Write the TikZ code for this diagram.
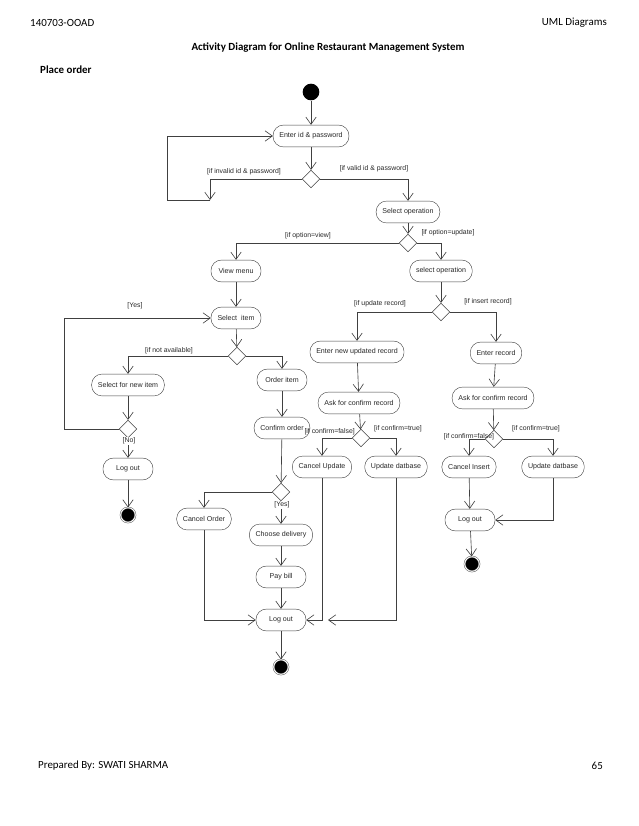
\documentclass[tikz,border=0pt]{standalone}
\usepackage{fontspec}
\setmainfont{Carlito}
\newfontfamily\umlfont{Liberation Sans}
\usepackage{tikz}
\usetikzlibrary{arrows.meta,shapes.geometric}
\usepackage{xcolor}
\definecolor{linegray}{RGB}{64,64,64}
\definecolor{textgray}{RGB}{40,40,40}

\begin{document}
\begin{tikzpicture}[x=0.96pt,y=-0.96pt,>={Straight Barb[length=7pt,width=10pt,line width=0.6pt]},
  act/.style={draw=linegray,rounded corners=10pt,minimum height=21pt,minimum width=48pt,
    inner xsep=6pt,inner ysep=0pt,font=\umlfont\fontsize{6.8}{8}\selectfont,text=textgray},
  branch/.style={draw=linegray,diamond,minimum size=17pt,inner sep=0pt},
  initial/.style={circle,fill=black,minimum size=16pt,inner sep=0pt},
  final/.style={circle,fill=black,draw=black!75,double=white,double distance=1pt,minimum size=14pt,inner sep=0pt},
  guard/.style={font=\umlfont\fontsize{6.6}{8}\selectfont,text=textgray,inner sep=1pt},
  flow/.style={draw=linegray,line width=0.6pt},
  page/.style={font=\fontsize{10.5}{12}\selectfont,inner sep=0pt}]
\useasboundingbox (0,0) rectangle (638,826);

% page header and footer
\node[page,anchor=west] (hdrL) at (30,23) {140703-OOAD};
\node[page,anchor=east] (hdrR) at (607,23) {UML Diagrams};
\node[page,font=\fontsize{10.5}{12}\selectfont\bfseries] (title) at (328,48) {Activity Diagram for Online Restaurant Management System};
\node[page,anchor=west,font=\fontsize{10.5}{12}\selectfont\bfseries] (sub) at (40,70) {Place order};
\node[page,anchor=west] (ftrL) at (38,766) {Prepared By: SWATI SHARMA};
\node[page,anchor=east] (ftrR) at (603,766) {65};

% login
\node[initial] (start) at (311,92) {};
\node[act] (login) at (311,136) {Enter id \& password};
\node[branch] (dLogin) at (311,179) {};
\node[act] (selOp) at (408,212) {Select operation};
\node[branch] (dOpt) at (408,243) {};
\coordinate (retry) at (210,200);
\coordinate (retryL) at (167,200);

% view branch
\node[act] (viewMenu) at (236,271) {View menu};
\node[act] (selItem) at (236,318) {Select~ item};
\node[branch] (dAvail) at (237,356) {};
\node[act] (selNew) at (128,385) {Select for new item};
\node[branch] (dAgain) at (128,429) {};
\node[act] (logoutA) at (128,469) {Log out};
\node[final] (endA) at (128,515) {};
\coordinate (loopL) at (64,429);
\node[act] (order) at (282,380) {Order item};
\node[act] (confirm) at (282,428) {Confirm order};
\node[branch] (dConfirm) at (281,492) {};
\node[act] (cancelOrder) at (204,519) {Cancel Order};
\node[act] (delivery) at (281,535) {Choose delivery};
\node[act] (payBill) at (281,577) {Pay bill};
\node[act] (logoutB) at (281,620) {Log out};
\node[final] (endB) at (281,667) {};

% update branch
\node[act] (selOp2) at (441,271) {select operation};
\node[branch] (dRec) at (441,312) {};
\node[act] (enterNew) at (357,352) {Enter new updated record};
\node[act] (askUpd) at (359,403) {Ask for confirm record};
\node[branch] (dUpd) at (361,438) {};
\node[act] (cancelUpd) at (322,467) {Cancel Update};
\node[act] (updDb) at (396,467) {Update datbase};
\coordinate (updTip) at (328,620);
\node[act] (enterRec) at (496,353) {Enter record};
\node[act] (askIns) at (493,398) {Ask for confirm record};
\node[branch] (dIns) at (494,439) {};
\node[act] (cancelIns) at (469,467) {Cancel Insert};
\node[act] (updDb2) at (553,467) {Update datbase};
\node[act] (logoutC) at (470,520) {Log out};
\node[final] (endC) at (472,564) {};

% flows
\draw[flow,->] (start) -- (login);
\draw[flow,->] (login) -- (dLogin);
\draw[flow,->] (dLogin) -| (retry);
\draw[flow,->] (retry) -- (retryL) |- (login);
\draw[flow,->] (dLogin) -| (selOp);
\node[guard] (gInvalid) at (244,172) {[if invalid id \& password]};
\node[guard] (gValid) at (374,169) {[if valid id \& password]};
\draw[flow,->] (selOp) -- (dOpt);
\draw[flow,->] (dOpt) -| (viewMenu);
\draw[flow,->] (dOpt) -| (selOp2);
\node[guard] (gView) at (308,236) {[if option=view]};
\node[guard] (gUpdate) at (448,233) {[if option=update]};
\draw[flow,->] (viewMenu) -- (selItem);
\draw[flow,->] (selItem) -- (dAvail);
\draw[flow,->] (dAvail) -| (selNew);
\draw[flow,->] (dAvail) -| (order);
\node[guard] (gNotAvail) at (169,351) {[if not available]};
\draw[flow,->] (selNew) -- (dAgain);
\draw[flow,->] (dAgain) -- (logoutA);
\draw[flow,->] (dAgain) -- (loopL) |- (selItem);
\node[guard] (gYesA) at (135,306) {[Yes]};
\node[guard,fill=white] (gNo) at (129,441) {[No]};
\draw[flow,->] (logoutA) -- (endA);
\draw[flow,->] (order) -- (confirm);
\draw[flow,->] (confirm) -- (dConfirm);
\draw[flow,->] (dConfirm) -| (cancelOrder);
\draw[flow,->] (dConfirm) -- (delivery);
\node[guard,fill=white] (gYesB) at (282,505) {[Yes]};
\draw[flow,->] (delivery) -- (payBill);
\draw[flow,->] (payBill) -- (logoutB);
\draw[flow,->] (cancelOrder) |- (logoutB);
\draw[flow,->] (logoutB) -- (endB);
\draw[flow,->] (selOp2) -- (dRec);
\draw[flow,->] (dRec) -| (enterNew);
\draw[flow,->] (dRec) -| (enterRec);
\node[guard] (gUpdRec) at (380,304) {[if update record]};
\node[guard] (gInsRec) at (488,302) {[if insert record]};
\draw[flow,->] (enterNew) -- (askUpd);
\draw[flow,->] (askUpd) -- (dUpd);
\draw[flow,->] (dUpd) -| (cancelUpd);
\draw[flow,->] (dUpd) -| (updDb);
\node[guard,anchor=east] (gFalseA) at (356,432) {[if confirm=false]};
\node[guard] (gTrueA) at (398,429) {[if confirm=true]};
\draw[flow,->] (cancelUpd) |- (logoutB);
\draw[flow,->] (updDb) |- (updTip);
\draw[flow,->] (enterRec) -- (askIns);
\draw[flow,->] (askIns) -- (dIns);
\draw[flow,->] (dIns) -| (cancelIns);
\draw[flow,->] (dIns) -| (updDb2);
\node[guard] (gFalseB) at (469,437) {[if confirm=false]};
\node[guard] (gTrueB) at (536,429) {[if confirm=true]};
\draw[flow,->] (cancelIns) -- (logoutC);
\draw[flow,->] (updDb2) |- (logoutC);
\draw[flow,->] (logoutC) -- (endC);
\end{tikzpicture}
\end{document}
